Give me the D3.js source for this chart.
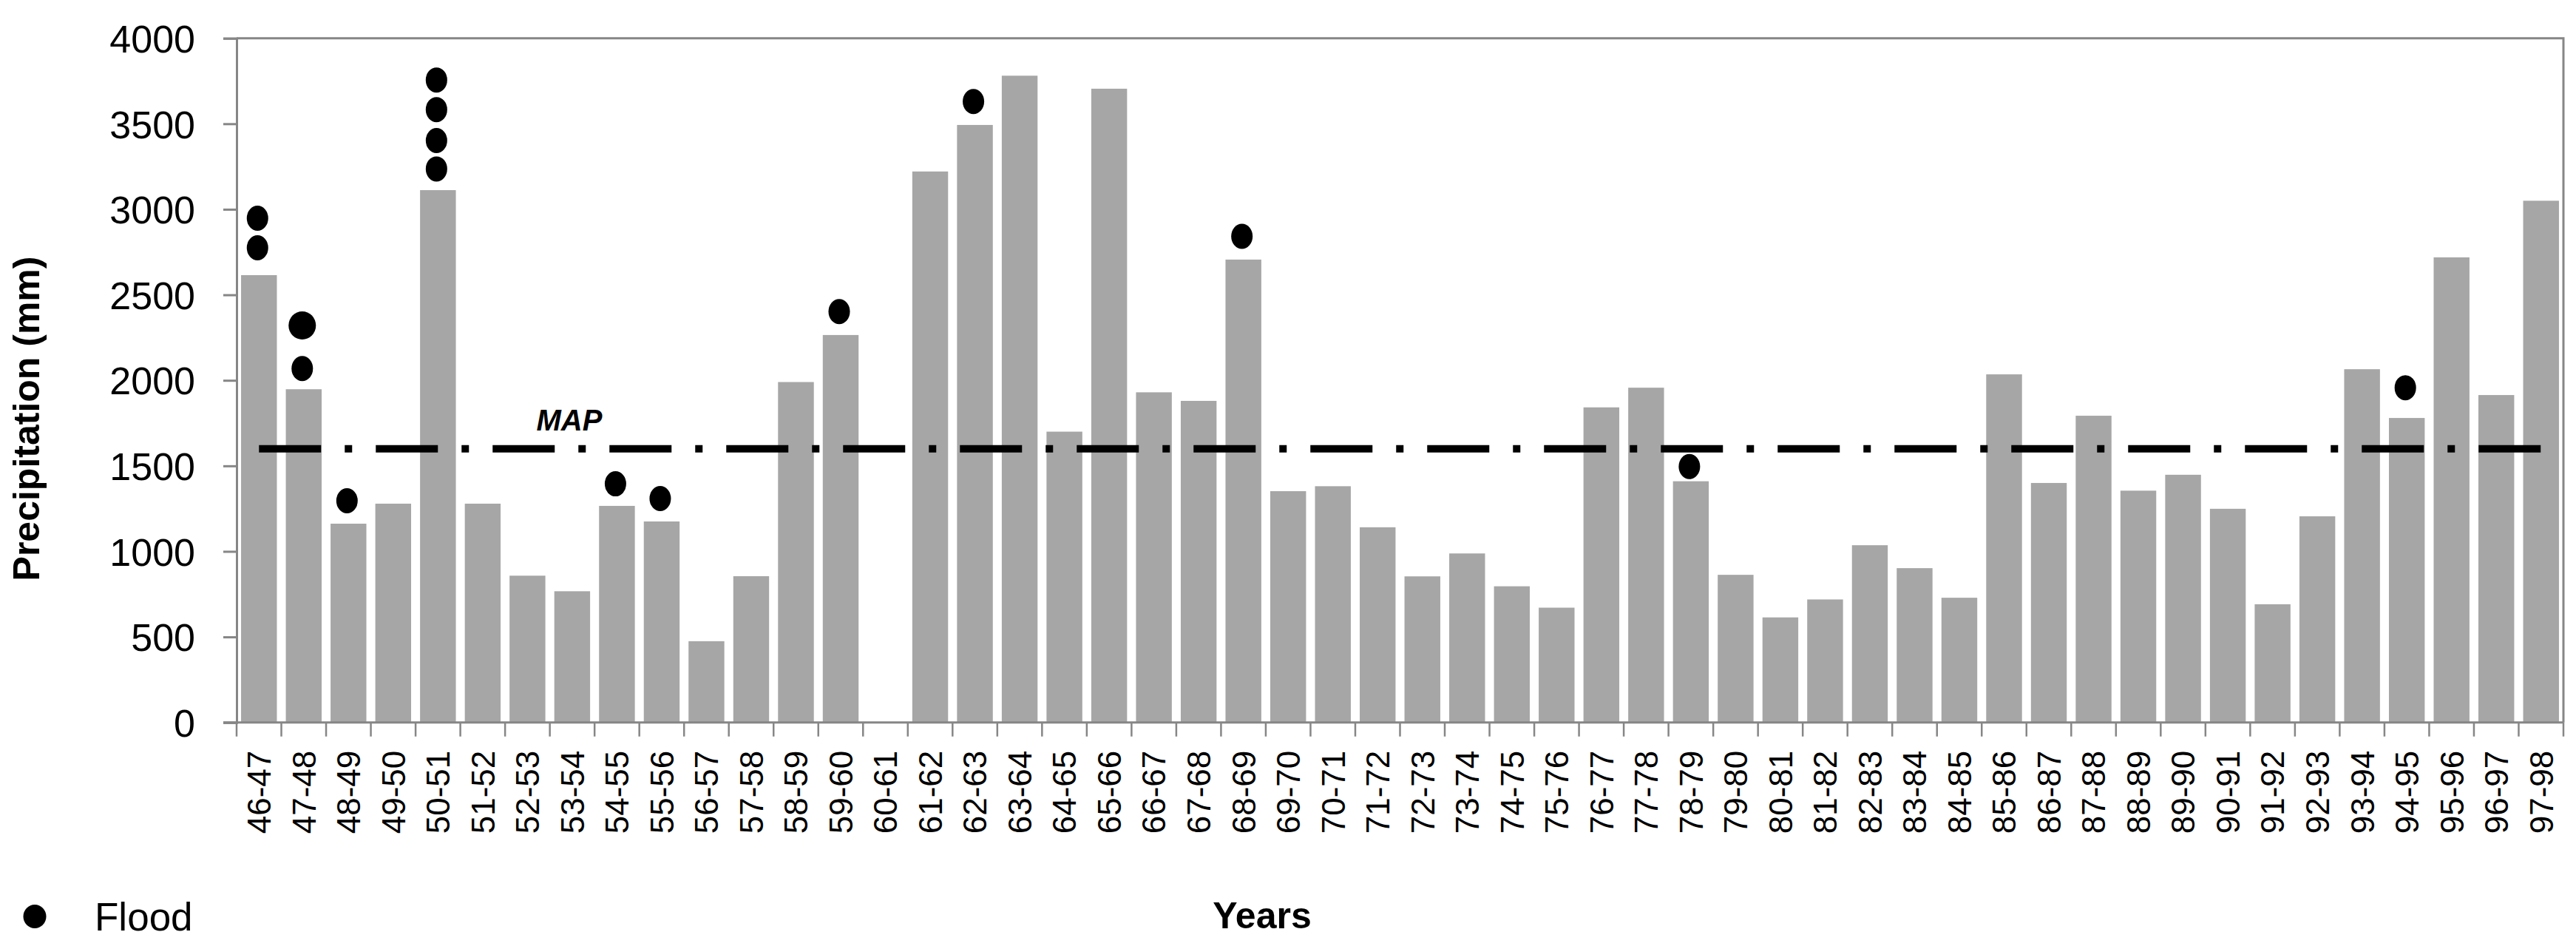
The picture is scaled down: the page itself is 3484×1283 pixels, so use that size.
<!DOCTYPE html>
<html>
<head>
<meta charset="utf-8">
<script src="https://cdn.jsdelivr.net/npm/d3@7"></script>
<style>
  html, body { margin: 0; padding: 0; background: #fff; }
  svg { display: block; }
</style>
</head>
<body>
<svg id="chart" width="3484" height="1283"></svg>
<script>
// ---------------- DATA ----------------
const categories = ["46-47","47-48","48-49","49-50","50-51","51-52","52-53","53-54","54-55","55-56",
  "56-57","57-58","58-59","59-60","60-61","61-62","62-63","63-64","64-65","65-66",
  "66-67","67-68","68-69","69-70","70-71","71-72","72-73","73-74","74-75","75-76",
  "76-77","77-78","78-79","79-80","80-81","81-82","82-83","83-84","84-85","85-86",
  "86-87","87-88","88-89","89-90","90-91","91-92","92-93","93-94","94-95","95-96",
  "96-97","97-98"];
const precipitation = [2615,1948,1162,1279,3112,1279,858,767,1266,1175,
  475,855,1990,2265,null,3221,3493,3781,1700,3705,
  1930,1880,2706,1352,1381,1141,854,988,796,671,
  1842,1957,1410,863,614,719,1036,902,729,2035,
  1400,1793,1355,1448,1249,691,1205,2065,1780,2719,
  1914,3050];
const floodCategories = ["46-47","46-47","47-48","47-48","48-49","50-51","50-51","50-51","50-51",
  "54-55","55-56","59-60","62-63","68-69","78-79","94-95"];
const floodLevels = [2948,2775,2321,2069,1296,3756,3583,3402,3236,1395,1309,2402,3630,2842,1496,1957];
const mapValue = 1600;
const mapLabel = "MAP";
const yTicks = [0,500,1000,1500,2000,2500,3000,3500,4000];
const yTitle = "Precipitation (mm)";
const xTitle = "Years";
const legendLabel = "Flood";

// ---------------- LAYOUT ----------------
(function () {
const svg = d3.select("#chart");
const plotLeft = 320, plotRight = 3467, plotTop = 51.7, plotBottom = 976.7;
const FONT = "'Liberation Sans', Arial, sans-serif";
const axisColor = "#868686";

const x = d3.scaleBand().domain(categories).range([plotLeft, plotRight]).paddingInner(0.2).paddingOuter(0.1);
const y = d3.scaleLinear().domain([0, 4000]).range([plotBottom, plotTop]);

svg.append("rect").attr("width", 3484).attr("height", 1283).attr("fill", "#fff");

// bars
svg.append("g").selectAll("rect")
  .data(categories.map((c, i) => ({c, v: precipitation[i]})).filter(d => d.v != null))
  .join("rect")
  .attr("x", d => x(d.c))
  .attr("width", x.bandwidth())
  .attr("y", d => y(d.v))
  .attr("height", d => y(0) - y(d.v))
  .attr("fill", "#a6a6a6");

// plot border (top & right)
svg.append("path")
  .attr("d", `M${plotLeft},${y(4000)}H${plotRight}V${y(0)}`)
  .attr("fill", "none").attr("stroke", axisColor).attr("stroke-width", 3);

// y axis
const yAxis = svg.append("g").attr("transform", `translate(${plotLeft},0)`)
  .call(d3.axisLeft(y).tickValues(yTicks).tickSize(18).tickPadding(38).tickFormat(d3.format("d")));
yAxis.select(".domain").attr("stroke", axisColor).attr("stroke-width", 3);
yAxis.selectAll(".tick line").attr("stroke", axisColor).attr("stroke-width", 3);
yAxis.selectAll(".tick text").attr("font-family", FONT).attr("font-size", 52).attr("fill", "#000")
  .attr("dy", "0.36em");

// x axis (labels via band axis)
const xAxis = svg.append("g").attr("transform", `translate(0,${plotBottom})`)
  .call(d3.axisBottom(x).tickSize(0).tickPadding(38));
xAxis.select(".domain").remove();
xAxis.selectAll(".tick text")
  .attr("font-family", FONT).attr("font-size", 44).attr("fill", "#000")
  .attr("transform", "rotate(-90)")
  .attr("x", -38).attr("y", 0).attr("dy", "0.36em")
  .attr("text-anchor", "end");
// x axis line & boundary ticks
svg.append("line").attr("x1", plotLeft - 18).attr("x2", plotRight).attr("y1", plotBottom).attr("y2", plotBottom)
  .attr("stroke", axisColor).attr("stroke-width", 3);
const step = x.step();
const boundaries = categories.map(c => x(c) - step * x.paddingInner() / 2).concat([plotRight]);
svg.append("g").selectAll("line").data(boundaries).join("line")
  .attr("x1", d => d).attr("x2", d => d)
  .attr("y1", plotBottom).attr("y2", plotBottom + 19)
  .attr("stroke", axisColor).attr("stroke-width", 2.5);

// MAP line
const mapLine = d3.line().x(d => x(d) + x.bandwidth() / 2).y(() => y(mapValue));
svg.append("path")
  .attr("d", mapLine([categories[0], categories[categories.length - 1]]))
  .attr("fill", "none").attr("stroke", "#000").attr("stroke-width", 10)
  .attr("stroke-dasharray", "84,32,10,32");
svg.append("text").attr("x", 770).attr("y", y(mapValue) - 25)
  .attr("text-anchor", "middle").attr("font-family", FONT).attr("font-size", 40)
  .attr("font-weight", "bold").attr("font-style", "italic").text(mapLabel);

// flood dots
svg.append("g").selectAll("ellipse")
  .data(floodCategories.map((c, i) => ({c, v: floodLevels[i], big: i === 2})))
  .join("ellipse")
  .attr("cx", d => x(d.c) + x.bandwidth() / 2 - 2)
  .attr("cy", d => y(d.v))
  .attr("rx", d => d.big ? 18.5 : 14.5)
  .attr("ry", d => d.big ? 19 : 17)
  .attr("fill", "#000");

// axis titles
svg.append("text")
  .attr("transform", "translate(53,566) rotate(-90)")
  .attr("text-anchor", "middle").attr("font-family", FONT).attr("font-size", 50)
  .attr("font-weight", "bold").text(yTitle);
svg.append("text").attr("x", 1707).attr("y", 1255)
  .attr("text-anchor", "middle").attr("font-family", FONT).attr("font-size", 50)
  .attr("font-weight", "bold").text(xTitle);

// legend
svg.append("ellipse").attr("cx", 47).attr("cy", 1239).attr("rx", 15.5).attr("ry", 16).attr("fill", "#000");
svg.append("text").attr("x", 128).attr("y", 1258).attr("font-family", FONT).attr("font-size", 53)
  .attr("fill", "#000").text(legendLabel);
})();
</script>
</body>
</html>
